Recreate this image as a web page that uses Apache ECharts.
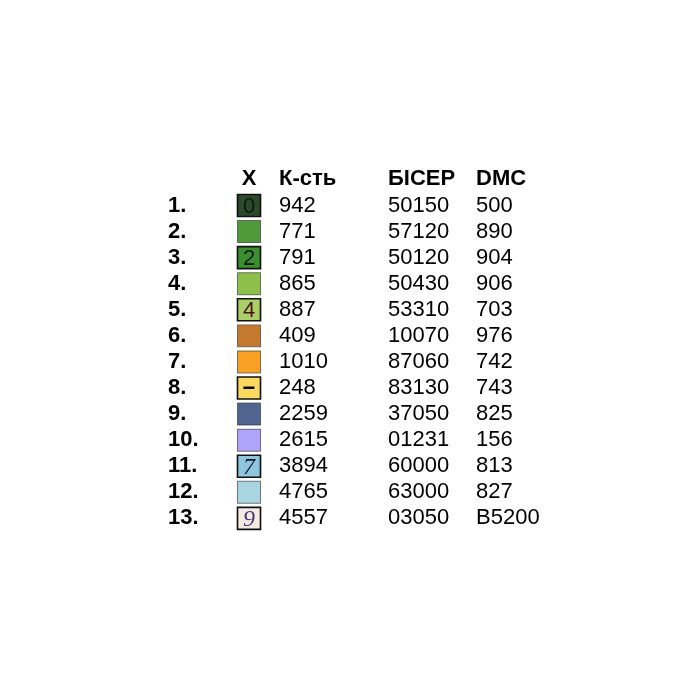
<!DOCTYPE html>
<html>
<head>
<meta charset="utf-8">
<script src="https://cdn.jsdelivr.net/npm/echarts@6/dist/echarts.min.js"></script>
<style>html,body{margin:0;padding:0;background:#fff}#c{width:700px;height:700px}</style>
</head>
<body>
<div id="c"></div>
<script>
const rowCategories = ['H','1','2','3','4','5','6','7','8','9','10','11','12','13'];
const rowNums = ['1.','2.','3.','4.','5.','6.','7.','8.','9.','10.','11.','12.','13.'];
const headers = ['X','К-сть','БІСЕР','DMC'];
const swatchColors = ['#2b4a2c','#4f9a3a','#3a8f2e','#8cc04b','#a9cf66','#c47a2e','#f8a125','#fbd860','#4f6590','#b0a4f8','#8fc6df','#a9d5e0','#f4ebe3'];
const swatchSymbols = ['0','','2','','4','','','−','','','7','','9'];
const kst = [942,771,791,865,887,409,1010,248,2259,2615,3894,4765,4557];
const biser = ['50150','57120','50120','50430','53310','10070','87060','83130','37050','01231','60000','63000','03050'];
const dmc = ['500','890','904','906','703','976','742','743','825','156','813','827','B5200'];

const FONT = 'Liberation Sans, Arial, sans-serif';
const FS = 22;
const colX = {num:168, sw:249, kst:279, biser:388, dmc:476};

function textSeries(x, arr, bold, rowOffset){
  return {
    type:'scatter', symbolSize:0, silent:true,
    itemStyle:{opacity:1},
    data: arr.map((v,i)=>({value:[x, rowCategories[i+rowOffset]], txt:String(v)})),
    label:{show:true, position:'right', distance:0, align:'left', verticalAlign:'middle',
      formatter: p => p.data.txt, opacity:1,
      fontFamily:FONT, fontSize:FS, fontWeight: bold?'bold':'normal', color:'#000'}
  };
}

const symStyles = {
  '0':{color:'#0f1a0f', fontFamily:'Liberation Sans', fontWeight:'normal', fontStyle:'normal', size:22},
  '2':{color:'#0a140a', fontFamily:'Liberation Sans', fontWeight:'normal', fontStyle:'normal', size:22},
  '4':{color:'#4a1010', fontFamily:'Liberation Sans', fontWeight:'normal', fontStyle:'normal', size:22},
  '−':{color:'#000', fontFamily:'Liberation Sans', fontWeight:'bold', fontStyle:'normal', size:22},
  '7':{color:'#0a1420', fontFamily:'Liberation Serif', fontWeight:'normal', fontStyle:'italic', size:24},
  '9':{color:'#4a3a7a', fontFamily:'Liberation Serif', fontWeight:'normal', fontStyle:'italic', size:24}
};

const swatchData = swatchColors.map((c,i)=>{
  const s = swatchSymbols[i];
  const st = symStyles[s];
  return {
    value:[colX.sw, rowCategories[i+1]],
    itemStyle:{color:c, opacity:1, borderColor: s ? '#111' : 'rgba(40,40,40,0.6)', borderWidth: s ? 1.6 : 1},
    label: s ? {show:true, position:'inside', formatter:s, fontSize:st.size, color:st.color, offset:[0,1],
      verticalAlign:'middle', align:'center',
      fontFamily:st.fontFamily, fontWeight:st.fontWeight, fontStyle:st.fontStyle} : {show:false}
  };
});

const chart = echarts.init(document.getElementById('c'), null, {renderer:'canvas'});
chart.setOption({
  backgroundColor:'#ffffff',
  animation:false,
  grid:{left:0, right:0, top:166.4, bottom:168.6},
  xAxis:{type:'value', min:0, max:700, show:false},
  yAxis:{type:'category', data:rowCategories, inverse:true, show:false, boundaryGap:true},
  series:[
    {type:'scatter', symbolSize:0, silent:true, itemStyle:{opacity:1},
     data:[{value:[colX.sw, 'H']}],
     label:{show:true, position:'inside', formatter:headers[0], fontFamily:FONT, fontSize:FS, fontWeight:'bold', color:'#000'}},
    textSeries(colX.kst, [headers[1]], true, 0),
    textSeries(colX.biser, [headers[2]], true, 0),
    textSeries(colX.dmc, [headers[3]], true, 0),
    textSeries(colX.num, rowNums, true, 1),
    {type:'scatter', symbol:'rect', symbolSize:[23,22], silent:true, itemStyle:{opacity:1}, data:swatchData},
    textSeries(colX.kst, kst, false, 1),
    textSeries(colX.biser, biser, false, 1),
    textSeries(colX.dmc, dmc, false, 1)
  ]
});
</script>
</body>
</html>
